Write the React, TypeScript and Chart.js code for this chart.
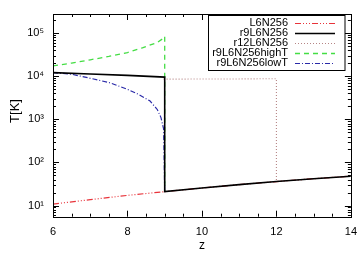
import { useEffect, useRef } from 'react';
import { Chart, registerables } from 'chart.js';

Chart.register(...registerables);

// ---- data ----
const seriesLabels = ['L6N256', 'r9L6N256', 'r12L6N256', 'r9L6N256highT', 'r9L6N256lowT'];

const zL6 = [6, 7, 8, 9, 10, 11, 12, 13, 14];
const tL6 = [10.8, 13.7, 17.2, 21, 25.5, 30.5, 36, 42, 48];

const zR9 = [6, 7, 8, 9, 9, 10, 11, 12, 13, 14];
const tR9 = [12200, 11300, 10500, 9600, 21, 25.5, 30.5, 36, 42, 48];

const zR12 = [8.97, 10, 11, 12, 12, 13, 14];
const tR12 = [8600, 8650, 8700, 8800, 36, 42, 48];

const zHigh = [6, 6.5, 7, 7.5, 8, 8.4, 8.8, 8.93, 9, 9];
const tHigh = [17500, 20300, 24200, 28900, 35700, 46000, 61000, 73000, 84000, 21];

const zLow = [6, 6.5, 7, 7.5, 8, 8.3, 8.6, 8.8, 8.9, 8.97, 9];
const tLow = [12200, 11200, 9000, 7200, 5000, 3800, 2700, 1700, 1100, 600, 21];

const xTickValues = [6, 8, 10, 12, 14];
const yTickValues = [10, 100, 1000, 10000, 100000];
const xTitle = 'z';
const yTitle = 'T[K]';

const FONT = "'Liberation Sans', Arial, Helvetica, sans-serif";
const SUP: Record<string, string> = { '0': '⁰', '1': '¹', '2': '²', '3': '³', '4': '⁴', '5': '⁵', '6': '⁶', '7': '⁷', '8': '⁸', '9': '⁹' };

const styles = [
  { color: '#e8333a', width: 1.2, dash: [6, 2, 1, 2, 1, 2, 1, 2], order: 4 },
  { color: '#000000', width: 1.6, dash: [] as number[], order: 0 },
  { color: '#b58585', width: 1.1, dash: [1, 2], order: 3 },
  { color: '#44dd44', width: 1.3, dash: [5, 4], order: 2 },
  { color: '#2a2aa8', width: 1.2, dash: [5, 2, 1, 2], order: 1 },
];

const toPts = (zs: number[], ts: number[]) => zs.map((z, i) => ({ x: z, y: ts[i] }));

const framePlugin = {
  id: 'frameTicksLegend',
  afterDatasetsDraw(chart: any) {
    const { ctx, chartArea: a, scales } = chart;
    const xs = scales.x;
    const ys = scales.y;
    ctx.save();
    ctx.strokeStyle = '#000';
    ctx.lineWidth = 1;
    ctx.setLineDash([]);
    ctx.strokeRect(Math.round(a.left) + 0.5, Math.round(a.top) + 0.5, Math.round(a.right - a.left), Math.round(a.bottom - a.top));
    // x ticks (bottom & top, inward)
    ctx.beginPath();
    for (let v = 6; v <= 14.001; v += 0.5) {
      const px = Math.round(xs.getPixelForValue(v)) + 0.5;
      const major = Math.abs(v / 2 - Math.round(v / 2)) < 1e-6;
      const len = major ? 6 : 3;
      ctx.moveTo(px, a.bottom);
      ctx.lineTo(px, a.bottom - len);
      ctx.moveTo(px, a.top);
      ctx.lineTo(px, a.top + len);
    }
    // y ticks (left & right, inward)
    for (let e = 0; e <= 5; e++) {
      for (let m = 1; m <= 9; m++) {
        const v = m * Math.pow(10, e);
        if (v < ys.min || v > ys.max) continue;
        const py = Math.round(ys.getPixelForValue(v)) + 0.5;
        const len = m === 1 ? 6 : 3;
        ctx.moveTo(a.left, py);
        ctx.lineTo(a.left + len, py);
        ctx.moveTo(a.right, py);
        ctx.lineTo(a.right - len, py);
      }
    }
    ctx.stroke();

    // axis titles
    ctx.fillStyle = '#000';
    ctx.textAlign = 'center';
    ctx.textBaseline = 'middle';
    ctx.font = `12px ${FONT}`;
    ctx.fillText(xTitle, (a.left + a.right) / 2, 245.5);
    ctx.save();
    ctx.translate(15.5, 111);
    ctx.rotate(-Math.PI / 2);
    ctx.font = `13px ${FONT}`;
    ctx.fillText(yTitle, 0, 0);
    ctx.restore();

    // legend
    const bx = 208.5, by = 15.5, bw = 136.5, bh = 55;
    ctx.fillStyle = '#fff';
    ctx.fillRect(bx, by, bw, bh);
    ctx.strokeStyle = '#000';
    ctx.lineWidth = 1;
    ctx.strokeRect(bx, by, bw, bh);
    ctx.font = `11px ${FONT}`;
    ctx.textAlign = 'right';
    ctx.textBaseline = 'middle';
    seriesLabels.forEach((label, i) => {
      const y = 22.7 + i * 10;
      ctx.fillStyle = '#000';
      ctx.fillText(label, 288, y);
      ctx.beginPath();
      ctx.strokeStyle = styles[i].color;
      ctx.lineWidth = styles[i].width;
      ctx.setLineDash(styles[i].dash);
      ctx.moveTo(295, Math.round(y) + 0.5);
      ctx.lineTo(335, Math.round(y) + 0.5);
      ctx.stroke();
    });
    ctx.restore();
  },
};

export default function App() {
  const ref = useRef<HTMLCanvasElement>(null);
  useEffect(() => {
    document.body.style.margin = '0';
    const canvas = ref.current!;
    const datasets = [
      toPts(zL6, tL6),
      toPts(zR9, tR9),
      toPts(zR12, tR12),
      toPts(zHigh, tHigh),
      toPts(zLow, tLow),
    ].map((data, i) => ({
      label: seriesLabels[i],
      data,
      borderColor: styles[i].color,
      borderWidth: styles[i].width,
      borderDash: styles[i].dash,
      order: styles[i].order,
      pointRadius: 0,
      fill: false,
      tension: 0,
    }));
    const chart = new Chart(canvas, {
      type: 'line',
      data: { datasets },
      options: {
        responsive: false,
        animation: false,
        devicePixelRatio: 1,
        layout: { padding: { top: 14, right: 7, left: 0, bottom: 0 } },
        plugins: { legend: { display: false }, tooltip: { enabled: false } },
        scales: {
          x: {
            type: 'linear',
            min: 6,
            max: 14,
            afterBuildTicks: (s: any) => { s.ticks = xTickValues.map((v) => ({ value: v })); },
            afterFit: (s: any) => { s.height = 55.3; },
            grid: { display: false },
            border: { display: false },
            ticks: { color: '#000', font: { family: FONT, size: 11 }, padding: 1, maxRotation: 0, autoSkip: false },
          },
          y: {
            type: 'logarithmic',
            min: 5.5,
            max: 2.8e5,
            afterBuildTicks: (s: any) => { s.ticks = yTickValues.map((v) => ({ value: v })); },
            afterFit: (s: any) => { s.width = 53; },
            grid: { display: false },
            border: { display: false },
            ticks: {
              color: '#000',
              font: { family: FONT, size: 11 },
              padding: 1,
              autoSkip: false,
              callback: (v: any) => {
                const e = Math.round(Math.log10(Number(v)));
                return '10' + String(e).split('').map((c) => SUP[c]).join('');
              },
            },
          },
        },
      },
      plugins: [framePlugin],
    } as any);
    return () => chart.destroy();
  }, []);
  return (
    <div style={{ width: 358, height: 272 }}>
      <canvas ref={ref} width={358} height={272} style={{ display: 'block' }} />
    </div>
  );
}
